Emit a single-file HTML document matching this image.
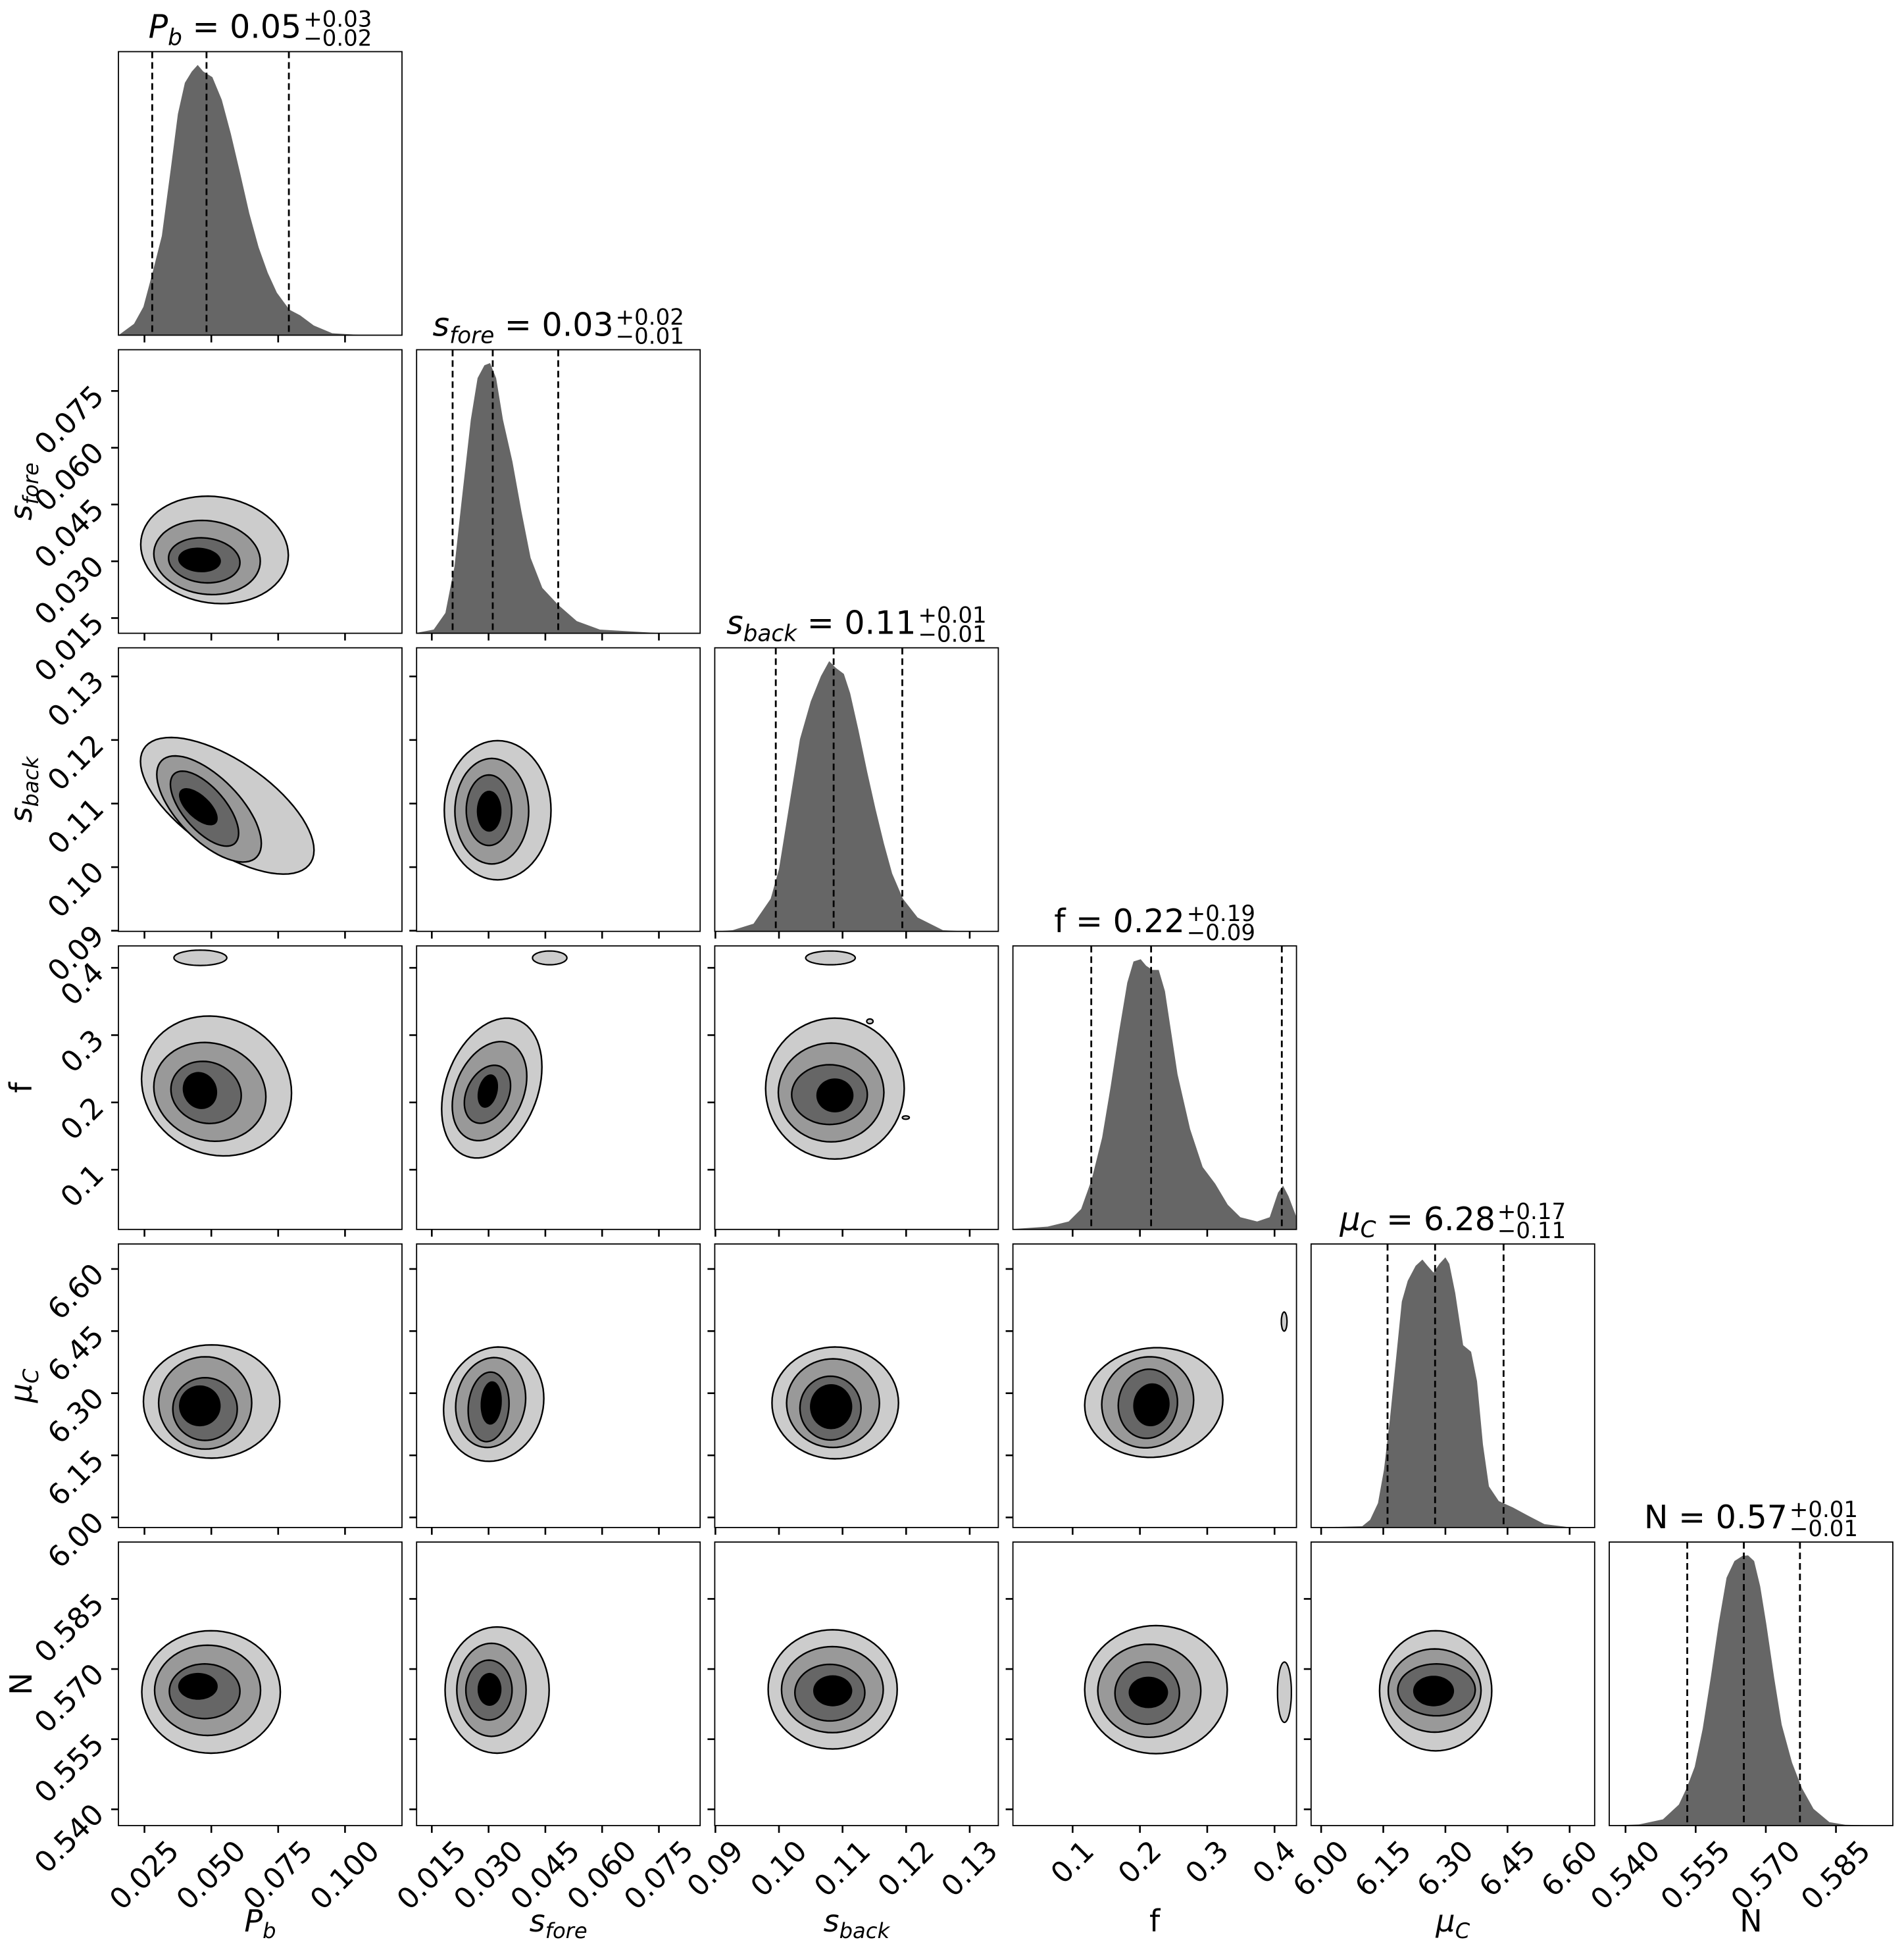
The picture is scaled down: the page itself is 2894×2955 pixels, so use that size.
<!DOCTYPE html>
<html><head><meta charset="utf-8"><style>
html,body{margin:0;padding:0;background:#fff}
svg{display:block;font-family:"DejaVu Sans","Liberation Sans",sans-serif}
</style></head><body>
<svg id="fig" xmlns="http://www.w3.org/2000/svg" width="2894" height="2955" viewBox="0 0 2894 2955">
<rect x="0" y="0" width="2894" height="2955" fill="#fff"/>
</svg>
<script>
// ---------- data ----------
const lims = [[0.01526,0.1213],[0.01098,0.0859],[0.0899,0.1345],[0.0113,0.4326],[5.9757,6.6604],[0.53652,0.59716]];
const tickVals = [[0.025,0.050,0.075,0.100],[0.015,0.030,0.045,0.060,0.075],[0.09,0.10,0.11,0.12,0.13],[0.1,0.2,0.3,0.4],[6.00,6.15,6.30,6.45,6.60],[0.540,0.555,0.570,0.585]];
const tickLabels = [["0.025","0.050","0.075","0.100"],["0.015","0.030","0.045","0.060","0.075"],["0.09","0.10","0.11","0.12","0.13"],["0.1","0.2","0.3","0.4"],["6.00","6.15","6.30","6.45","6.60"],["0.540","0.555","0.570","0.585"]];
const pbX = [0.0153,0.0211,0.0246,0.0280,0.0315,0.0349,0.0375,0.0401,0.0427,0.0449,0.0470,0.0504,0.0539,0.0573,0.0608,0.0642,0.0677,0.0711,0.0745,0.0792,0.0832,0.0883,0.0952,0.1056,0.1213];
const pbH = [0,0.04,0.10,0.22,0.35,0.59,0.78,0.89,0.93,0.953,0.93,0.91,0.83,0.71,0.57,0.43,0.31,0.22,0.15,0.09,0.07,0.034,0.007,0.001,0];
const sfX = [0.0110,0.0155,0.0186,0.0210,0.0228,0.0253,0.0271,0.0289,0.0304,0.0320,0.0338,0.0363,0.0387,0.0411,0.0442,0.0484,0.0533,0.0594,0.0741,0.0859];
const sfH = [0.0015,0.013,0.072,0.235,0.457,0.753,0.90,0.945,0.953,0.90,0.753,0.605,0.428,0.266,0.16,0.10,0.043,0.013,0.0015,0];
const sbX = [0.0899,0.0927,0.0960,0.0987,0.1000,0.1017,0.1033,0.1050,0.1066,0.1079,0.1089,0.1102,0.1112,0.1125,0.1139,0.1152,0.1165,0.1178,0.1195,0.1218,0.1258,0.1297,0.1346];
const sbH = [0,0.004,0.027,0.115,0.219,0.456,0.678,0.811,0.90,0.953,0.93,0.908,0.84,0.71,0.56,0.43,0.31,0.204,0.115,0.049,0.004,0,0];
const fX = [0.0113,0.0630,0.0941,0.1127,0.1283,0.1438,0.1563,0.1687,0.1812,0.1905,0.2011,0.2092,0.2185,0.2279,0.2372,0.2559,0.2745,0.2932,0.3119,0.3305,0.3492,0.3741,0.3928,0.4052,0.4127,0.4208,0.4326];
const fH = [0.0015,0.010,0.028,0.072,0.176,0.324,0.50,0.692,0.87,0.945,0.953,0.93,0.915,0.915,0.84,0.547,0.354,0.22,0.161,0.087,0.043,0.028,0.043,0.13,0.154,0.117,0.043];
const muX = [5.9757,6.0991,6.1182,6.1373,6.1517,6.1660,6.1804,6.1947,6.2091,6.2282,6.2445,6.2569,6.2712,6.2856,6.2999,6.3095,6.3238,6.3429,6.3620,6.3764,6.3907,6.4051,6.4290,6.4625,6.5007,6.5390,6.5964,6.6604];
const muH = [0,0.0044,0.027,0.086,0.204,0.382,0.59,0.797,0.87,0.923,0.945,0.923,0.899,0.93,0.953,0.93,0.827,0.643,0.62,0.516,0.293,0.145,0.093,0.071,0.041,0.012,0.0015,0];
const nX = [0.5365,0.5429,0.5480,0.5514,0.5531,0.5548,0.5565,0.5582,0.5599,0.5616,0.5633,0.5650,0.5662,0.5675,0.5688,0.5701,0.5718,0.5734,0.5756,0.5777,0.5802,0.5836,0.5870,0.5938,0.5972];
const nH = [0,0.004,0.022,0.074,0.133,0.207,0.341,0.519,0.711,0.874,0.933,0.951,0.953,0.933,0.844,0.711,0.519,0.356,0.222,0.133,0.059,0.012,0.003,0,0];
const quantiles = [[0.0279,0.0482,0.0790],[0.0205,0.0311,0.0484],[0.0995,0.1086,0.1194],[0.1277,0.2166,0.4108],[6.1603,6.2751,6.4405],[0.5532,0.5653,0.5773]];
const titleVal = ["0.05","0.03","0.11","0.22","6.28","0.57"];
const titlePlus = ["+0.03","+0.02","+0.01","+0.19","+0.17","+0.01"];
const titleMinus = ["\u22120.02","\u22120.01","\u22120.01","\u22120.09","\u22120.11","\u22120.01"];
const nameMain = ["P","s","s","f","\u03bc","N"];
const nameItal = [1,1,1,0,1,0];
const nameSub = ["b","fore","back","","C",""];
const nameSlug = ["pb","s-fore","s-back","f","mu-c","n"];
const pairs = [[0,1],[0,2],[1,2],[0,3],[1,3],[2,3],[0,4],[1,4],[2,4],[3,4],[0,5],[1,5],[2,5],[3,5],[4,5]];
const cXlo = [[0.0236,0.0285,0.0340,0.0379],[0.0235,0.0296,0.0347,0.0382],[0.0183,0.0211,0.0241,0.0271],[0.0239,0.0285,0.0349,0.0396],[0.0176,0.0204,0.0236,0.0273],[0.0979,0.0999,0.1020,0.1060],[0.0246,0.0303,0.0356,0.0382],[0.0181,0.0213,0.0246,0.0281],[0.0989,0.1012,0.1033,0.1050],[0.1179,0.1433,0.1678,0.1912],[0.0240,0.0288,0.0343,0.0379],[0.0185,0.0216,0.0240,0.0273],[0.0983,0.1004,0.1025,0.1055],[0.1179,0.1374,0.1629,0.1844],[6.141,6.162,6.185,6.224]];
const cXhi = [[0.0788,0.0683,0.0607,0.0533],[0.0884,0.0687,0.0602,0.0521],[0.0465,0.0406,0.0361,0.0332],[0.0800,0.0704,0.0612,0.0519],[0.0441,0.0401,0.0358,0.0323],[0.1197,0.1165,0.1139,0.1116],[0.0756,0.0651,0.0597,0.0532],[0.0446,0.0398,0.0354,0.0333],[0.1188,0.1158,0.1129,0.1114],[0.3232,0.2798,0.2558,0.2430],[0.0758,0.0684,0.0607,0.0521],[0.0460,0.0399,0.0362,0.0332],[0.1186,0.1164,0.1135,0.1114],[0.3298,0.2905,0.2587,0.2406],[6.412,6.386,6.372,6.319]];
const cYlo = [[0.0188,0.0212,0.0243,0.0273],[0.0989,0.1008,0.1033,0.1067],[0.0980,0.1005,0.1034,0.1057],[0.1205,0.1423,0.1687,0.1913],[0.1174,0.1432,0.1690,0.1932],[0.1159,0.1414,0.1672,0.1864],[6.1431,6.165,6.186,6.222],[6.1355,6.169,6.183,6.226],[6.1415,6.169,6.187,6.215],[6.145,6.168,6.191,6.222],[0.5520,0.5558,0.5594,0.5636],[0.5520,0.5556,0.5591,0.5623],[0.5529,0.5564,0.5589,0.5622],[0.5519,0.5554,0.5582,0.5618],[0.5525,0.5565,0.5600,0.5622]];
const cYhi = [[0.0472,0.0408,0.0362,0.0334],[0.1204,0.1175,0.1151,0.1123],[0.1199,0.1171,0.1145,0.1119],[0.3284,0.2891,0.2611,0.2441],[0.3253,0.2904,0.2552,0.2405],[0.3253,0.2882,0.2560,0.2345],[6.4167,6.388,6.3375,6.317],[6.4116,6.386,6.351,6.327],[6.4116,6.383,6.341,6.320],[6.410,6.388,6.358,6.322],[0.5782,0.5751,0.5711,0.5690],[0.5790,0.5755,0.5719,0.5690],[0.5784,0.5748,0.5710,0.5685],[0.5793,0.5753,0.5715,0.5682],[0.5782,0.5743,0.5711,0.5684]];
const cRho = [-0.1,-0.65,0,-0.1,0.3,0,0,0.1,0,0.05,0,0,0,0,0];
const islandPanel = [3,4,5,5,5,9,13];
const islandXlo = [0.0360,0.0416,0.1042,0.1138,0.1194,0.4101,0.4044];
const islandXhi = [0.0558,0.0507,0.1120,0.1148,0.1205,0.4185,0.4250];
const islandYlo = [0.4035,0.4045,0.4045,0.317,0.175,6.450,0.5586];
const islandYhi = [0.4263,0.4250,0.4250,0.324,0.180,6.496,0.5715];

const histX = [pbX,sfX,sbX,fX,muX,nX];
const histH = [pbH,sfH,sbH,fH,muH,nH];

// ---------- geometry ----------
const NS = "http://www.w3.org/2000/svg";
const svg = document.getElementById('fig');
const P = 431, X0 = 180, Y0 = 78.5, PX = 453.2, PY = 453.1;
const levelFill = ["#cccccc","#999999","#666666","#000000"];
function panelLeft(i){return X0 + i*PX;}
function panelTop(j){return Y0 + j*PY;}
function sx(i,v){return panelLeft(i) + (v-lims[i][0])/(lims[i][1]-lims[i][0])*P;}
function sy(j,v){return panelTop(j) + (lims[j][1]-v)/(lims[j][1]-lims[j][0])*P;}
function mk(tag, attrs, parent){
  const e = document.createElementNS(NS, tag);
  for (const k in attrs) e.setAttribute(k, attrs[k]);
  (parent||svg).appendChild(e);
  return e;
}
function ellipsePts(i,j,xlo,xhi,ylo,yhi,rho){
  const cx=(xlo+xhi)/2, rx=(xhi-xlo)/2, cy=(ylo+yhi)/2, ry=(yhi-ylo)/2, s=Math.sqrt(1-rho*rho);
  const pts=[];
  for (let k=0;k<72;k++){
    const t=k/72*2*Math.PI;
    pts.push(sx(i,cx+rx*Math.cos(t)).toFixed(1)+","+sy(j,cy+ry*(rho*Math.cos(t)+s*Math.sin(t))).toFixed(1));
  }
  return pts.join(" ");
}

const defs = mk('defs',{});
for (let i=0;i<6;i++) for (let j=i;j<6;j++){
  const cp = mk('clipPath',{id:'clip-'+i+'-'+j},defs);
  mk('rect',{x:panelLeft(i),y:panelTop(j),width:P,height:P},cp);
}

// ---------- histograms ----------
for (let i=0;i<6;i++){
  const g = mk('g',{'clip-path':'url(#clip-'+i+'-'+i+')'});
  
  
  const xs = histX[i], hs = histH[i], b = panelTop(i)+P;
  let d = "M"+sx(i,xs[0]).toFixed(1)+","+b;
  for (let k=0;k<xs.length;k++) d += " L"+sx(i,xs[k]).toFixed(1)+","+(b-hs[k]*P).toFixed(1);
  d += " L"+sx(i,xs[xs.length-1]).toFixed(1)+","+b+" Z";
  const p = mk('path',{d:d,fill:'#666666',stroke:'none'},g);
  
  
  quantiles[i].forEach((q,qi)=>{
    const l = mk('line',{x1:sx(i,q),x2:sx(i,q),y1:panelTop(i),y2:b,stroke:'#000','stroke-width':2.8,'stroke-dasharray':'10,6'},g);
    
    
  });
}

// ---------- contours ----------
pairs.forEach((pr,pi)=>{
  const i=pr[0], j=pr[1];
  const g = mk('g',{'clip-path':'url(#clip-'+i+'-'+j+')'});
  
  
  for (let L=0;L<4;L++){
    const poly = mk('polygon',{points:ellipsePts(i,j,cXlo[pi][L],cXhi[pi][L],cYlo[pi][L],cYhi[pi][L],cRho[pi]),fill:levelFill[L],stroke:'#000','stroke-width':2.4,'stroke-linejoin':'round'},g);
    
    
  }
});
islandPanel.forEach((pi,k)=>{
  const i=pairs[pi][0], j=pairs[pi][1];
  const poly = mk('polygon',{points:ellipsePts(i,j,islandXlo[k],islandXhi[k],islandYlo[k],islandYhi[k],0),fill:'#cccccc',stroke:'#000','stroke-width':2.2,'clip-path':'url(#clip-'+i+'-'+j+')'});
  
  
});

// ---------- frames & ticks ----------
for (let i=0;i<6;i++) for (let j=i;j<6;j++){
  const r = mk('rect',{x:panelLeft(i),y:panelTop(j),width:P,height:P,fill:'none',stroke:'#000','stroke-width':1.8});
  
  
  const b = panelTop(j)+P;
  tickVals[i].forEach(v=>{
    const t = mk('line',{x1:sx(i,v),x2:sx(i,v),y1:b,y2:b+11,stroke:'#000','stroke-width':2.6});
    
    
  });
  if (j>i){
    tickVals[j].forEach(v=>{
      const t = mk('line',{x1:panelLeft(i)-11,x2:panelLeft(i),y1:sy(j,v),y2:sy(j,v),stroke:'#000','stroke-width':2.6});
      
      
    });
  }
}

// ---------- tick labels ----------
const TFS = 44;
for (let i=0;i<6;i++){
  const b = panelTop(5)+P;
  tickVals[i].forEach((v,k)=>{
    const t = mk('text',{'font-size':TFS,'text-anchor':'middle','dominant-baseline':'central',fill:'#000'});
    t.textContent = tickLabels[i][k];
    
    
    let w = 0;
    try { w = t.getComputedTextLength(); } catch(e) { w = tickLabels[i][k].length*TFS*0.58; }
    const h = TFS*1.16;
    const W = (w+h)/Math.SQRT2;
    const cx = sx(i,v), cy = b + 13 + W/2;
    t.setAttribute('x', cx); t.setAttribute('y', cy);
    t.setAttribute('transform','rotate(-45 '+cx+' '+cy+')');
  });
}
for (let j=1;j<6;j++){
  tickVals[j].forEach((v,k)=>{
    const x = panelLeft(0)-30, y = sy(j,v);
    const t = mk('text',{x:x,y:y,'font-size':TFS,'text-anchor':'end','dominant-baseline':'central',fill:'#000',transform:'rotate(-45 '+x+' '+y+')'});
    t.textContent = tickLabels[j][k];
    
    
  });
}

// ---------- names ----------
function nameMarkup(k, fs){
  let s = '<tspan'+(nameItal[k]?' font-style="italic"':'')+'>'+nameMain[k]+'</tspan>';
  if (nameSub[k]){
    const d = (fs*0.22).toFixed(1);
    s += '<tspan font-style="italic" font-size="'+(fs*0.7).toFixed(1)+'" dy="'+d+'">'+nameSub[k]+'</tspan><tspan dy="-'+d+'">\u200b</tspan>';
  }
  return s;
}
const LFS = 46;
for (let i=0;i<6;i++){
  const t = mk('text',{x:panelLeft(i)+P/2,y:2936,'font-size':LFS,'text-anchor':'middle',fill:'#000'});
  t.innerHTML = nameMarkup(i,LFS);
  
  
}
for (let j=1;j<6;j++){
  const x = 48, y = panelTop(j)+P/2;
  const t = mk('text',{x:x,y:y,'font-size':LFS,'text-anchor':'middle',fill:'#000',transform:'rotate(-90 '+x+' '+y+')'});
  t.innerHTML = nameMarkup(j,LFS);
  
  
}

// ---------- titles ----------
const MFS = 49, SFS = 34;
for (let i=0;i<6;i++){
  const g = mk('g',{});
  
  
  const ty = panelTop(i);
  const main = mk('text',{x:0,y:ty-21,'font-size':MFS,fill:'#000'},g);
  main.innerHTML = nameMarkup(i,MFS)+'<tspan> = '+titleVal[i]+'</tspan>';
  const sup = mk('text',{x:0,y:ty-38,'font-size':SFS,fill:'#000'},g);
  sup.textContent = titlePlus[i];
  const sub = mk('text',{x:0,y:ty-9,'font-size':SFS,fill:'#000'},g);
  sub.textContent = titleMinus[i];
  let wm = 230, ws = 100;
  try {
    wm = main.getComputedTextLength();
    ws = Math.max(sup.getComputedTextLength(), sub.getComputedTextLength());
  } catch(e) {}
  const x0 = panelLeft(i)+P/2 - (wm+3+ws)/2;
  main.setAttribute('x', x0);
  sup.setAttribute('x', x0+wm+3);
  sub.setAttribute('x', x0+wm+3);
}
</script>
</body></html>
